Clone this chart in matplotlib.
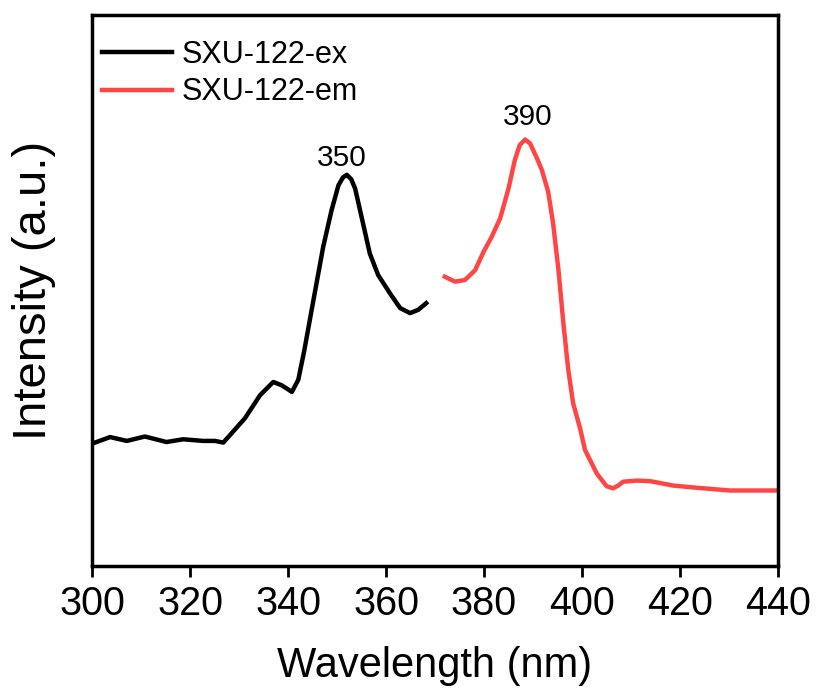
import matplotlib
matplotlib.use('Agg')
import matplotlib.pyplot as plt

# excitation spectrum
ex_wl = [300.3, 303.7, 307.1, 310.8, 315.2, 318.6, 322.7, 325.1, 326.8, 328.2,
         331.2, 334.3, 337.0, 338.7, 340.8, 342.1, 343.3, 345.2, 347.2, 348.9,
         350.3, 351.2, 352.0, 352.9, 353.7, 355.0, 356.7, 358.4, 360.8, 362.9,
         364.9, 366.6, 368.2]
ex_int = [0.223, 0.234, 0.227, 0.235, 0.225, 0.230, 0.227, 0.227, 0.224, 0.238,
          0.268, 0.310, 0.334, 0.328, 0.316, 0.338, 0.390, 0.483, 0.580, 0.646,
          0.691, 0.705, 0.710, 0.702, 0.685, 0.634, 0.567, 0.528, 0.495, 0.468,
          0.459, 0.465, 0.477]

# emission spectrum
em_wl = [372.0, 374.1, 376.1, 378.2, 379.9, 381.6, 383.3, 385.0, 386.3, 387.3,
         388.4, 389.4, 390.8, 391.8, 393.1, 394.1, 395.2, 396.2, 397.2, 398.2,
         399.6, 400.6, 403.0, 405.0, 406.3, 407.4, 408.4, 411.2, 413.9, 418.6,
         423.4, 430.2, 435.6, 439.7]
em_int = [0.525, 0.516, 0.519, 0.537, 0.570, 0.598, 0.631, 0.685, 0.737, 0.764,
          0.774, 0.767, 0.740, 0.719, 0.679, 0.622, 0.537, 0.440, 0.356, 0.295,
          0.250, 0.211, 0.168, 0.145, 0.141, 0.146, 0.153, 0.155, 0.154, 0.146,
          0.142, 0.137, 0.137, 0.137]

peak_labels = ['350', '390']
peak_pos = [(351.0, 0.740), (388.9, 0.815)]
xticks = [300, 320, 340, 360, 380, 400, 420, 440]

RED = '#FF4545'
FONT = ['Liberation Sans', 'DejaVu Sans']

fig = plt.figure(figsize=(8.16, 6.96), dpi=100)
ax = fig.add_axes([92 / 816, 1 - 566 / 696, 686 / 816, 551 / 696])

ax.plot(ex_wl, ex_int, color='black', lw=3.2, label='SXU-122-ex')
ax.plot(em_wl, em_int, color=RED, lw=3.2, label='SXU-122-em')

for txt, (x, y) in zip(peak_labels, peak_pos):
    ax.text(x, y, txt, ha='center', va='center', fontsize=21.5, family=FONT)

ax.set_xlim(300, 440)
ax.set_ylim(0, 1)
ax.set_xticks(xticks)
ax.set_xticklabels([str(t) for t in xticks], family=FONT, fontsize=28.5)
ax.set_yticks([])
ax.tick_params(axis='x', direction='out', length=8, width=2, pad=6)
for s in ax.spines.values():
    s.set_linewidth(2.5)

ax.set_xlabel('Wavelength (nm)', family=FONT, fontsize=30, labelpad=16)
ax.set_ylabel('Intensity (a.u.)', family=FONT, fontsize=34, labelpad=26)

leg = ax.legend(loc='upper left', bbox_to_anchor=(0.0146, 0.955), frameon=False,
                prop={'family': FONT, 'size': 22}, handlelength=2.3,
                handletextpad=0.3, labelspacing=0.25, borderaxespad=0.0,
                borderpad=0.0)

fig.savefig('out.png', dpi=100)
